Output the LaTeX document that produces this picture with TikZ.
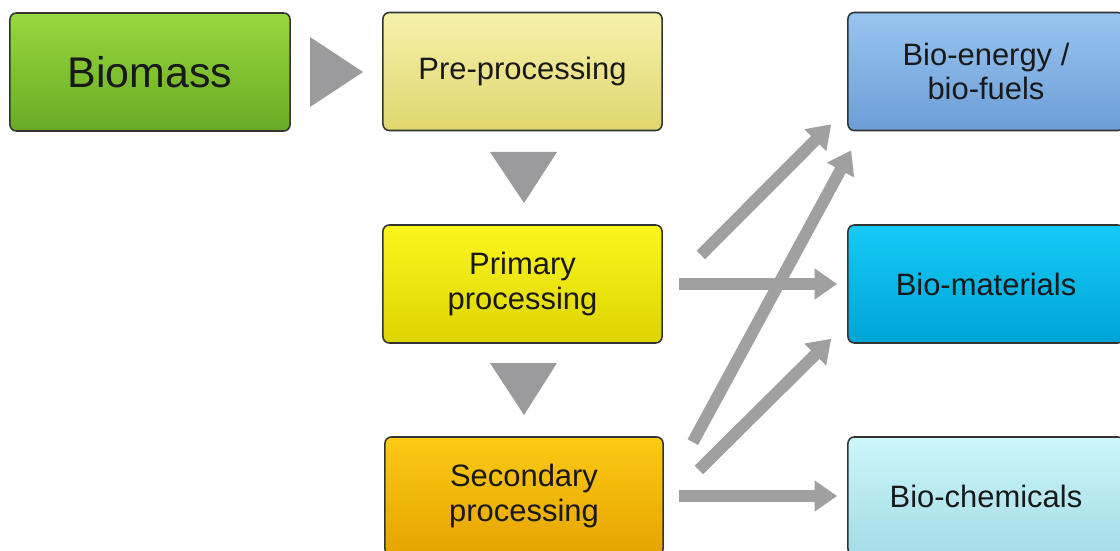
\documentclass[tikz,border=0pt]{standalone}
\usepackage{fontspec}
\setmainfont{Liberation Sans}
\usepackage{tikz}
\usetikzlibrary{arrows.meta,calc}

\definecolor{flowgray}{RGB}{160,160,160}
\definecolor{trigray}{RGB}{155,155,158}

\tikzset{
  box/.style={draw=black!80, line width=1.1pt, rounded corners=4.5pt,
    minimum width=6.975cm, minimum height=2.95cm, align=center,
    text=black!90, font=\fontsize{22}{24.5}\selectfont},
  sidebox/.style={box, minimum width=6.9cm},
  flow/.style={draw=flowgray, line width=8.5pt,
    -{Triangle[length=16pt,width=21pt]}},
  tri/.style={fill=trigray}
}

\begin{document}
\begin{tikzpicture}[x=0.025cm,y=-0.025cm]
\useasboundingbox[fill=white] (0,0) rectangle (1120,551);
\clip (0,0) rectangle (1120,551);

% left column
\node[box, minimum width=7cm, top color={rgb,255:red,152;green,216;blue,62},
  bottom color={rgb,255:red,104;green,170;blue,36},
  font=\fontsize{30.5}{32}\selectfont] (bio) at (150,72) {Biomass};
\node[box, top color={rgb,255:red,246;green,242;blue,172},
  bottom color={rgb,255:red,224;green,214;blue,110}] (pre) at (522.5,71.5) {Pre-processing};
\node[box, top color={rgb,255:red,252;green,246;blue,30},
  bottom color={rgb,255:red,222;green,212;blue,0}] (prim) at (522.5,284) {Primary\\processing};
\node[box, minimum width=6.95cm, top color={rgb,255:red,252;green,202;blue,20},
  bottom color={rgb,255:red,230;green,164;blue,0}] (sec) at (524,496) {Secondary\\processing};

% products
\node[sidebox, top color={rgb,255:red,152;green,196;blue,240},
  bottom color={rgb,255:red,108;green,158;blue,214}] (ene) at (986,71.5) {Bio-energy /\\bio-fuels};
\node[sidebox, top color={rgb,255:red,22;green,202;blue,246},
  bottom color={rgb,255:red,0;green,164;blue,214}] (mat) at (986,284) {Bio-materials};
\node[sidebox, top color={rgb,255:red,204;green,246;blue,250},
  bottom color={rgb,255:red,164;green,220;blue,230}] (chem) at (986,496) {Bio-chemicals};

% step markers
\fill[tri] (310,37) -- (310,107) -- (363,72) -- cycle;
\fill[tri] (490,152) -- (557,152) -- (524,203) -- cycle;
\fill[tri] (490,363) -- (557,363) -- (524,415) -- cycle;

% flows
\draw[flow] ([shift={(38,-29)}]prim.east) -- ([shift={(-16,-7)}]ene.south west);
\draw[flow] ([shift={(16,0)}]prim.east) -- ([shift={(-10,0)}]mat.west);
\draw[flow] ([shift={(29,6)}]sec.north east) -- ([shift={(4,19)}]ene.south west);
\draw[flow] ([shift={(35,-26)}]sec.east) -- ([shift={(-16,-5)}]mat.south west);
\draw[flow] ([shift={(15,0)}]sec.east) -- ([shift={(-10,0)}]chem.west);
\end{tikzpicture}
\end{document}
